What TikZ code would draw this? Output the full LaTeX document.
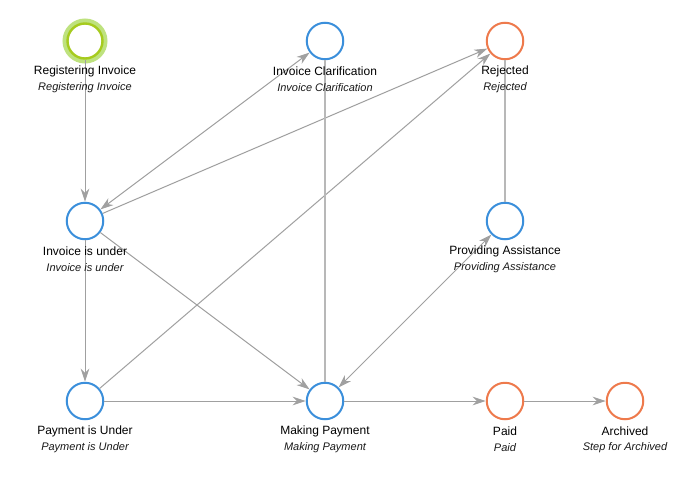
\documentclass[tikz,border=0pt]{standalone}
\usepackage{fontspec}
\setmainfont{Liberation Sans}
\usetikzlibrary{arrows.meta}
\definecolor{stepblue}{HTML}{3B8FDB}
\definecolor{steporange}{HTML}{EE7A4C}
\definecolor{startouter}{HTML}{BEE27E}
\definecolor{startinner}{HTML}{A6CB1E}
\definecolor{edgegray}{HTML}{A0A0A0}
\tikzset{
  stepnode/.style={circle, minimum size=36.5pt, inner sep=0pt, line width=2pt, draw=#1, fill=white},
  startnode/.style={circle, minimum size=35pt, inner sep=0pt, line width=2.4pt, draw=startinner, fill=white},
  halo/.style={draw=startouter, line width=6pt},
  titlelbl/.style={font=\fontsize{12}{14}\selectfont, text=black, inner sep=0pt},
  sublbl/.style={font=\fontsize{11}{13}\selectfont\itshape, text=black!90, inner sep=0pt},
  tipshape/.style={Stealth[length=13pt,width=8.5pt,inset=4pt]},
  flow/.style={draw=edgegray, line width=1pt, -{Stealth[length=13pt,width=8.5pt,inset=4pt]}},
  bothflow/.style={draw=edgegray, line width=1pt, {Stealth[length=13pt,width=8.5pt,inset=4pt]}-{Stealth[length=13pt,width=8.5pt,inset=4pt]}},
  plainflow/.style={draw=edgegray!75, line width=1.4pt},
}
\begin{document}
\begin{tikzpicture}[x=1pt,y=-1pt]
\useasboundingbox (0,0) rectangle (693,490);
\fill[white] (0,0) rectangle (693,490);
% start halo
\draw[halo] (85,41) circle[radius=19.5pt];
% nodes
\node[startnode] (ri) at (85,41) {};
\node[stepnode=stepblue] (ic) at (325,41) {};
\node[stepnode=steporange] (rj) at (505,41) {};
\node[stepnode=stepblue] (iu) at (85,221) {};
\node[stepnode=stepblue] (pa) at (505,221) {};
\node[stepnode=stepblue] (pu) at (85,401) {};
\node[stepnode=stepblue] (mp) at (325,401) {};
\node[stepnode=steporange] (pd) at (505,401) {};
\node[stepnode=steporange] (ar) at (625,401) {};
% edges
\draw[flow] (ri) -- (iu);
\draw[bothflow] (iu) -- (ic);
\draw[flow] (iu) -- (rj);
\draw[flow] (pu) -- (rj);
\draw[flow] (iu) -- (mp);
\draw[flow] (iu) -- (pu);
\draw[plainflow] (ic) -- (mp);
\draw[plainflow] (rj) -- (pa);
\draw[bothflow] (pa) -- (mp);
\draw[flow] (pu) -- (mp);
\draw[flow] (mp) -- (pd);
\draw[flow] (pd) -- (ar);
% labels
\node[titlelbl] (ri-t) at (85,71.5) {Registering Invoice};
\node[sublbl] (ri-s) at (85,88) {Registering Invoice};
\node[titlelbl] (ic-t) at (325,71.5) {Invoice Clarification};
\node[sublbl] (ic-s) at (325,88) {Invoice Clarification};
\node[titlelbl] (rj-t) at (505,71.5) {Rejected};
\node[sublbl] (rj-s) at (505,88) {Rejected};
\node[titlelbl] (iu-t) at (85,251.5) {Invoice is under};
\node[sublbl] (iu-s) at (85,268) {Invoice is under};
\node[titlelbl] (pa-t) at (505,251.5) {Providing Assistance};
\node[sublbl] (pa-s) at (505,268) {Providing Assistance};
\node[titlelbl] (pu-t) at (85,431.5) {Payment is Under};
\node[sublbl] (pu-s) at (85,448) {Payment is Under};
\node[titlelbl] (mp-t) at (325,431.5) {Making Payment};
\node[sublbl] (mp-s) at (325,448) {Making Payment};
\node[titlelbl] (pd-t) at (505,431.5) {Paid};
\node[sublbl] (pd-s) at (505,448) {Paid};
\node[titlelbl] (ar-t) at (625,431.5) {Archived};
\node[sublbl] (ar-s) at (625,448) {Step for Archived};
\end{tikzpicture}
\end{document}
